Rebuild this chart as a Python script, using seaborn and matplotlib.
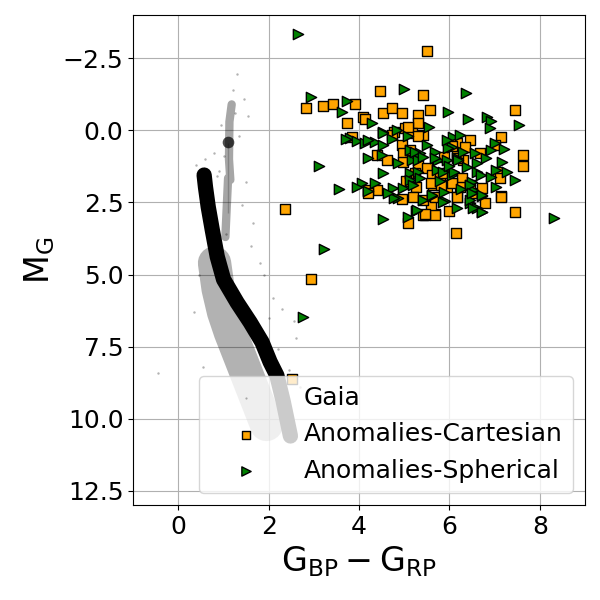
import seaborn as sns
import matplotlib
matplotlib.use('Agg')
import matplotlib.pyplot as plt
from matplotlib.ticker import MultipleLocator

# Gaia background: main-sequence ridge, broad halo ridge,
# giant branch, red clump and a few scattered stars
ms_color = [0.57, 0.60, 0.66, 0.75, 0.86, 1.00, 1.30, 1.59, 1.85, 2.03, 2.18, 2.32, 2.40, 2.48]
ms_mag = [1.55, 1.97, 2.65, 3.45, 4.38, 5.17, 5.97, 6.66, 7.34, 8.03, 8.50, 9.40, 10.0, 10.6]

halo_color = [0.80, 0.88, 1.00, 1.15, 1.35, 1.55, 1.75, 1.95]
halo_mag = [4.6, 5.5, 6.3, 7.0, 7.8, 8.6, 9.4, 10.2]

rgb_color = [1.04, 1.10, 1.15, 1.12, 1.10, 1.13, 1.18]
rgb_mag = [3.70, 2.86, 1.72, 1.00, 0.45, -0.30, -0.90]

clump_color = [1.10]
clump_mag = [0.42]

gaia_color = [1.30, 1.45, 1.55, 0.95, 1.00, 0.78, 0.60, 0.40, 0.50, 1.40, 1.65, 1.80, 2.10,
              2.30, 2.55, 2.60, 2.20, 0.45, 0.35, 1.25, 1.35, 0.90, 0.70, 1.60, 1.90, 2.45,
              2.70, 0.55, -0.45, 1.20, 1.50, 0.65, 0.85, 2.00, 2.35, 1.05]
gaia_mag = [-1.97, -1.10, -0.50, -0.20, 0.90, 0.80, 1.00, 1.20, 2.40, 2.60, 3.20, 4.60, 5.80,
            6.20, 6.60, 7.20, 7.60, 5.00, 6.30, -0.60, 0.20, 1.40, 3.00, 4.00, 5.00, 8.30,
            8.90, 8.20, 8.40, -1.40, 1.80, 2.00, 1.60, 6.50, 9.80, 3.60]

# Anomalies-Cartesian
cart_color = [5.50, 2.36, 2.94, 2.52, 6.14, 2.83, 3.20, 3.42, 3.91, 4.46, 5.41, 3.73, 4.08,
              4.12, 4.53, 4.72, 4.94, 5.30, 5.30, 5.56, 7.44, 5.01, 4.78, 5.17, 5.41, 3.84,
              4.72, 4.94, 4.97, 4.39, 4.61, 4.98, 5.30, 5.23, 5.03, 4.39, 4.19, 5.26, 4.94,
              5.45, 5.08, 5.42, 5.68, 6.00, 5.60, 6.17, 6.78, 7.13, 7.44, 6.50, 4.19, 6.45,
              6.16, 6.67, 7.15, 7.00, 7.62, 7.62, 5.89, 6.29, 5.50, 5.61, 5.78, 5.89, 6.27,
              5.63, 5.94, 6.23, 6.71, 7.05, 7.11, 7.15, 6.16, 5.41, 5.67, 5.19, 5.67, 5.45,
              6.16, 6.34, 6.20, 6.05, 5.60, 5.82, 6.45, 5.08, 5.30, 5.12, 6.05]
cart_mag = [-2.76, 2.72, 5.14, 8.62, 3.57, -0.76, -0.83, -0.93, -0.93, -1.38, -1.24, -0.24, -0.45,
            -0.40, -0.59, -0.76, -0.59, -0.52, -0.24, -0.69, -0.69, -0.07, 0.07, 0.10, 0.17, 0.22,
            0.17, 0.52, 0.79, 0.86, 1.03, 1.10, 1.21, 1.48, 1.76, 2.07, 2.07, 1.97, 2.38,
            2.93, 3.21, 2.94, 2.90, 2.79, 2.62, 2.30, 2.52, 2.28, 2.84, 2.18, 2.16, 0.34,
            0.79, 0.79, 0.24, 0.50, 0.86, 1.24, 0.93, 1.03, 1.31, 1.55, 1.62, 1.48, 1.66,
            1.90, 1.97, 1.97, 2.00, 1.45, 1.66, 2.31, 2.31, 2.41, 2.31, 2.31, 2.93, 2.90,
            0.45, 0.59, 0.97, 1.83, 1.83, 1.90, 1.90, -0.10, 0.20, 0.69, 0.55]

# Anomalies-Spherical
sph_color = [2.65, 2.94, 3.11, 3.22, 2.76, 8.32, 3.55, 4.52, 5.08, 5.25, 5.61, 5.42, 5.90,
             6.16, 6.45, 6.62, 6.73, 6.73, 6.50, 4.86, 4.78, 3.73, 4.99, 3.62, 4.28, 5.96,
             6.36, 6.40, 6.84, 6.93, 6.89, 7.55, 4.53, 4.84, 3.80, 3.95, 4.13, 4.35, 4.53,
             4.53, 4.72, 5.12, 5.34, 5.50, 4.50, 4.19, 4.86, 5.17, 5.30, 4.53, 5.12, 5.12,
             4.06, 4.35, 4.19, 4.75, 4.97, 5.19, 5.28, 6.07, 6.23, 6.05, 5.67, 6.56, 7.00,
             6.93, 5.74, 5.94, 6.16, 6.38, 6.62, 6.60, 5.72, 6.05, 6.49, 6.51, 6.93, 7.04,
             7.17, 7.28, 7.44, 7.04, 5.89, 6.45, 5.85, 6.71, 6.51, 5.23, 5.41, 5.67, 5.96,
             6.18, 6.11, 5.30, 5.85, 5.35, 6.45, 6.71, 6.49, 5.61, 5.08, 4.20, 3.70, 3.95,
             4.65, 6.30, 6.80, 5.55, 7.20, 6.00, 5.80, 6.25, 5.95, 6.70]
sph_mag = [-3.34, -1.14, 1.24, 4.10, 6.48, 3.03, 2.03, 3.08, 2.99, 2.79, 2.28, 2.41, 2.45,
           2.69, 2.52, 2.69, 2.82, 2.28, 2.18, 2.35, 2.35, -1.03, -1.45, -0.62, -0.24, -0.62,
           -1.31, -0.41, -0.45, -0.31, -0.07, -0.17, 0.07, 0.00, 0.28, 0.38, 0.45, 0.41, 0.10,
           0.52, 0.30, 0.69, 0.79, 0.52, 0.86, 0.97, 1.14, 1.03, 1.03, 1.48, 1.48, 1.72,
           1.83, 1.83, 2.10, 2.00, 2.00, 1.90, 2.76, 0.24, 0.17, 0.59, 0.76, 0.79, 0.45,
           0.69, 1.03, 1.03, 0.97, 1.28, 1.14, 1.45, 1.38, 1.55, 1.79, 2.07, 1.62, 1.38,
           1.10, 1.45, 1.72, 1.97, 2.14, 2.41, 2.48, 2.83, 2.70, 0.76, 0.93, 0.97, 0.62,
           1.03, 1.45, 1.45, 1.45, 1.65, 1.90, 2.24, 2.17, 2.24, 0.20, 0.33, 0.30, 1.95,
           2.18, 0.75, 0.95, -0.10, 0.65, 1.25, 1.75, 2.05, 0.35, 1.55]

plt.rcParams['mathtext.default'] = 'regular'

fig, ax = plt.subplots(figsize=(6, 6), dpi=100)
fig.subplots_adjust(left=0.222, right=0.975, top=0.975, bottom=0.158)
ax.set_axisbelow(True)
ax.grid(True, color='#b0b0b0', linewidth=0.8)

# Gaia cloud
sns.lineplot(x=halo_color, y=halo_mag, sort=False, ax=ax, color='black',
             linewidth=24, alpha=0.3, solid_capstyle='round')
sns.lineplot(x=rgb_color, y=rgb_mag, sort=False, ax=ax, color='black',
             linewidth=6, alpha=0.35, solid_capstyle='round')
sns.lineplot(x=ms_color, y=ms_mag, sort=False, ax=ax, color='black',
             linewidth=11, solid_capstyle='round')
sns.scatterplot(x=clump_color, y=clump_mag, ax=ax, color='black', s=70,
                alpha=0.7, linewidth=0)
sns.scatterplot(x=gaia_color, y=gaia_mag, ax=ax, color='black', s=3,
                alpha=0.3, linewidth=0, label='Gaia')

sns.scatterplot(x=cart_color, y=cart_mag, ax=ax, marker='s', color='orange',
                edgecolor='black', linewidth=1, s=45, label='Anomalies-Cartesian', zorder=3)
sns.scatterplot(x=sph_color, y=sph_mag, ax=ax, marker='>', color='green',
                edgecolor='black', linewidth=1, s=55, label='Anomalies-Spherical', zorder=4)

ax.set_xlim(-1, 9)
ax.set_ylim(13, -4)
ax.yaxis.set_major_locator(MultipleLocator(2.5))
ax.tick_params(labelsize=18)
ax.set_xlabel(r'$G_{BP} - G_{RP}$', fontsize=24)
ax.set_ylabel(r'$M_G$', fontsize=24)

ax.legend(loc='lower right', fontsize=18, handlelength=3.0, markerscale=0.9)

fig.savefig('out.png', dpi=100)
